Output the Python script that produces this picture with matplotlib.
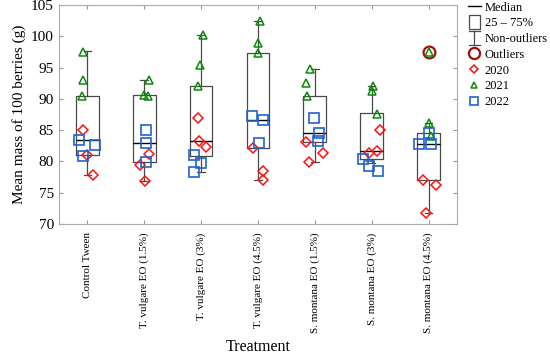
import matplotlib
matplotlib.use("Agg")
import matplotlib.pyplot as plt
from matplotlib.lines import Line2D
from matplotlib.patches import Rectangle
from matplotlib.legend_handler import HandlerBase

plt.rcParams['font.family'] = ['Liberation Serif', 'DejaVu Serif']

treatments = ["Control Tween", "T. vulgare EO (1.5%)", "T. vulgare EO (3%)",
              "T. vulgare EO (4.5%)", "S. montana EO (1.5%)", "S. montana EO (3%)",
              "S. montana EO (4.5%)"]

# box statistics
q1 = [81.0, 79.95, 80.9, 82.15, 83.1, 80.4, 77.05]
med = [83.5, 82.9, 83.2, 86.6, 84.6, 81.6, 82.85]
q3 = [90.5, 90.6, 92.1, 97.4, 90.5, 87.7, 84.5]
whislo = [77.9, 76.9, 78.3, 77.1, 79.9, 79.8, 71.7]
whishi = [97.6, 93.0, 100.3, 102.4, 94.8, 92.0, 86.2]
outliers = [[], [], [], [], [], [], [97.5]]

# yearly values per treatment (3 each)
y2020 = [[85.0, 81.0, 77.9], [79.4, 81.2, 76.9], [86.9, 83.2, 82.3],
         [82.15, 78.5, 77.05], [83.1, 79.9, 81.3], [85.0, 81.7, 81.3],
         [77.05, 76.2, 71.7]]
y2021 = [[97.5, 93.1, 90.5], [93.0, 90.6, 90.5], [100.3, 95.4, 92.1],
         [102.4, 98.9, 97.4], [94.8, 92.5, 90.5], [92.1, 91.3, 87.6],
         [97.5, 86.2, 84.1]]
y2022 = [[83.5, 82.6, 80.8], [85.0, 82.9, 79.95], [81.0, 79.8, 78.3],
         [87.2, 86.6, 83.0], [86.9, 84.6, 83.3], [80.4, 79.3, 78.4],
         [84.6, 82.85, 82.85]]

# horizontal jitter of the points, in category units
jit2020 = [[-0.07, 0.0, 0.1], [-0.08, 0.09, 0.01], [-0.06, -0.04, 0.08],
           [-0.09, 0.09, 0.09], [-0.16, -0.1, 0.14], [0.14, 0.1, -0.04],
           [-0.09, 0.13, -0.04]]
jit2021 = [[-0.07, -0.07, -0.1], [0.09, 0.0, 0.06], [0.04, -0.01, -0.06],
           [0.04, 0.0, 0.0], [-0.09, -0.15, -0.13], [0.02, 0.01, 0.1],
           [0.0, 0.0, 0.05]]
jit2022 = [[-0.15, 0.13, -0.07], [0.03, 0.03, 0.04], [-0.12, 0.0, -0.12],
           [-0.11, 0.09, 0.02], [-0.02, 0.08, 0.05], [-0.16, -0.05, 0.11],
           [0.0, -0.17, 0.04]]


class HandlerWhisker(HandlerBase):
    def create_artists(self, legend, orig_handle, xd, yd, width, height, fontsize, trans):
        cx = width / 2 - xd
        top = height * 1.3 - yd
        bot = -height * 0.3 - yd
        c = orig_handle.get_color()
        return [Line2D([cx, cx], [bot, top], color=c, lw=0.9, transform=trans),
                Line2D([cx - 4, cx + 4], [top, top], color=c, lw=0.9, transform=trans),
                Line2D([cx - 4, cx + 4], [bot, bot], color=c, lw=0.9, transform=trans)]


class HandlerBox(HandlerBase):
    def create_artists(self, legend, orig_handle, xd, yd, width, height, fontsize, trans):
        w = 8
        r = Rectangle((width / 2 - xd - w / 2, -height * 0.3 - yd), w, height * 1.6,
                      facecolor='white', edgecolor=orig_handle.get_edgecolor(), lw=0.9,
                      transform=trans)
        return [r]


fig = plt.figure(figsize=(5.5, 3.57), dpi=100)
ax = fig.add_axes([0.107, 0.3725, 0.724, 0.613])

stats = []
for i in range(len(treatments)):
    stats.append(dict(med=med[i], q1=q1[i], q3=q3[i], whislo=whislo[i],
                      whishi=whishi[i], fliers=outliers[i]))

edge = '#4a4a4a'
ax.bxp(stats, positions=range(len(treatments)), widths=0.4, capwidths=0.13,
       boxprops=dict(color=edge, lw=0.9),
       whiskerprops=dict(color=edge, lw=0.9),
       capprops=dict(color=edge, lw=0.9),
       medianprops=dict(color='black', lw=1.0),
       flierprops=dict(marker='o', markersize=8.5, markerfacecolor='none',
                       markeredgecolor='#9b1010', markeredgewidth=1.6),
       zorder=1)

for i in range(len(treatments)):
    ax.plot([i + d for d in jit2021[i]], y2021[i], linestyle='none', marker='^',
            markersize=6, markerfacecolor='none', markeredgecolor='#0a8a0a',
            markeredgewidth=1.1, zorder=3)
    ax.plot([i + d for d in jit2020[i]], y2020[i], linestyle='none', marker='D',
            markersize=5, markerfacecolor='none', markeredgecolor='#ff1010',
            markeredgewidth=1.1, zorder=3)
    ax.plot([i + d for d in jit2022[i]], y2022[i], linestyle='none', marker='s',
            markersize=6.5, markerfacecolor='none', markeredgecolor='#1f62d0',
            markeredgewidth=1.2, zorder=4)

ax.set_xlim(-0.5, len(treatments) - 0.5)
ax.set_ylim(70, 105)
ax.set_yticks(range(70, 106, 5))
ax.set_xticks(range(len(treatments)))
ax.set_xticklabels(treatments, rotation=90, fontsize=8)
ax.tick_params(axis='y', labelsize=11, direction='in', right=True, length=3, color='#999999')
ax.tick_params(axis='x', direction='in', top=True, length=3, color='#999999', pad=6)
for s in ax.spines.values():
    s.set_color('#aaaaaa')

ax.set_ylabel("Mean mass of 100 berries (g)", fontsize=11)
ax.set_xlabel("Treatment", fontsize=11.5, labelpad=4)

handles = [Line2D([], [], color='black', lw=1.0),
           Rectangle((0, 0), 1, 1, facecolor='white', edgecolor=edge),
           Line2D([], [], color=edge),
           Line2D([], [], linestyle='none', marker='o', markersize=8, markerfacecolor='none',
                  markeredgecolor='#9b1010', markeredgewidth=1.6),
           Line2D([], [], linestyle='none', marker='D', markersize=4.5, markerfacecolor='none',
                  markeredgecolor='#ff1010', markeredgewidth=1.1),
           Line2D([], [], linestyle='none', marker='^', markersize=5, markerfacecolor='none',
                  markeredgecolor='#0a8a0a', markeredgewidth=1.1),
           Line2D([], [], linestyle='none', marker='s', markersize=6, markerfacecolor='none',
                  markeredgecolor='#1f62d0', markeredgewidth=1.2)]
labels = ["Median", "25 – 75%", "Non-outliers", "Outliers", "2020", "2021", "2022"]
handler_map = {handles[1]: HandlerBox(), handles[2]: HandlerWhisker()}
fig.legend(handles, labels, handler_map=handler_map, loc='upper left',
           bbox_to_anchor=(0.835, 1.02), frameon=False, fontsize=9,
           handlelength=1.0, handletextpad=0.35, labelspacing=0.3, borderpad=0.2)

fig.savefig("out.png", dpi=100)
